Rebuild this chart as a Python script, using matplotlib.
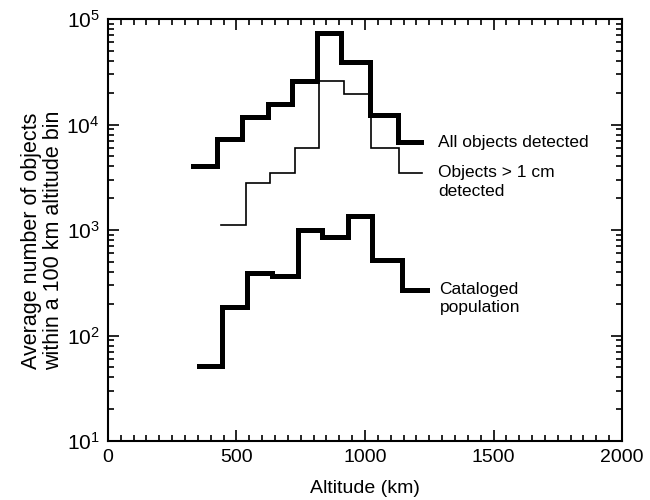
import matplotlib
matplotlib.use("Agg")
import matplotlib.pyplot as plt
from matplotlib.ticker import MultipleLocator, LogLocator, NullFormatter

plt.rcParams['font.family'] = ['Liberation Sans', 'DejaVu Sans']

# bin edges (km) and counts per bin
all_edges = [330, 425, 522, 622, 715, 812, 905, 1018, 1128, 1218]
all_counts = [4000, 7300, 11800, 15600, 26000, 74000, 39000, 12300, 6800]

cm_edges = [440, 538, 632, 729, 823, 918, 1022, 1131, 1221]
cm_counts = [1120, 2800, 3500, 6000, 26000, 19500, 6000, 3450]

cat_edges = [355, 445, 543, 637, 738, 832, 935, 1028, 1145, 1242]
cat_counts = [51, 186, 390, 366, 1000, 860, 1360, 520, 270]

labels = ["All objects detected", "Objects > 1 cm\ndetected", "Cataloged\npopulation"]


def step_xy(edges, counts):
    xs, ys = [], []
    for i, c in enumerate(counts):
        xs += [edges[i], edges[i + 1]]
        ys += [c, c]
    return xs, ys


fig = plt.figure(figsize=(6.5, 5), dpi=100)
ax = fig.add_axes([0.166, 0.118, 0.791, 0.844])

x, y = step_xy(all_edges, all_counts)
ax.plot(x, y, color='black', lw=3.6, solid_joinstyle='miter')
x, y = step_xy(cm_edges, cm_counts)
ax.plot(x, y, color='black', lw=1.2, solid_joinstyle='miter')
x, y = step_xy(cat_edges, cat_counts)
ax.plot(x, y, color='black', lw=3.6, solid_joinstyle='miter')

ax.set_yscale('log')
ax.set_xlim(0, 2000)
ax.set_ylim(10, 1e5)
ax.xaxis.set_major_locator(MultipleLocator(500))
ax.xaxis.set_minor_locator(MultipleLocator(50))
ax.yaxis.set_major_locator(LogLocator(base=10, numticks=10))
ax.yaxis.set_minor_locator(LogLocator(base=10, subs=range(2, 10), numticks=10))
ax.yaxis.set_minor_formatter(NullFormatter())

ax.tick_params(which='both', direction='in', top=True, right=True, width=1.2, pad=6)
ax.tick_params(axis='x', labelsize=14)
ax.tick_params(axis='y', labelsize=15)
ax.tick_params(which='major', length=8)
ax.tick_params(which='minor', length=4)
for s in ax.spines.values():
    s.set_linewidth(1.5)

ax.set_xlabel("Altitude (km)", fontsize=14, labelpad=10)
ax.set_ylabel("Average number of objects\nwithin a 100 km altitude bin", fontsize=15.5,
              labelpad=1, linespacing=1.1)
ax.yaxis.set_label_coords(-0.085, 0.475)

# labels: first line sits level with the end of each curve
ax.annotate(labels[0], xy=(1285, all_counts[-1]), xytext=(0, 0), textcoords='offset points',
            fontsize=12.5, va='center', ha='left')
ax.annotate(labels[1], xy=(1285, cm_counts[-1]), xytext=(0, 6), textcoords='offset points',
            fontsize=12.5, va='top', ha='left', linespacing=1.3)
ax.annotate(labels[2], xy=(1290, cat_counts[-1]), xytext=(0, 6), textcoords='offset points',
            fontsize=12.5, va='top', ha='left', linespacing=1.3)

fig.savefig("out.png", dpi=100)
